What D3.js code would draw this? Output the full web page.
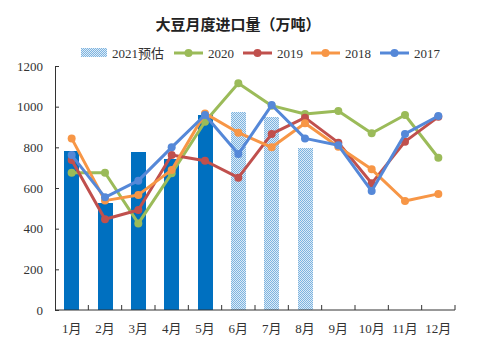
<!DOCTYPE html>
<html><head><meta charset="utf-8">
<script src="https://cdn.jsdelivr.net/npm/d3@7/dist/d3.min.js"></script>
<style>body{margin:0;background:#fff}svg{display:block}text{font-family:"Liberation Serif","Noto Sans CJK SC",serif}</style>
</head><body><svg id="c" width="477" height="347"></svg>
<script>
const months = ["1月","2月","3月","4月","5月","6月","7月","8月","9月","10月","11月","12月"];
const bars2021 = [784, 525, 775, 743, 959, 975, 949, 798, null, null, null, null];
const estimateFrom = 5; // index from which 2021 bars are estimates
const s2020 = [675, 675, 426, 672, 926, 1115, 1005, 964, 979, 869, 959, 749];
const s2019 = [738, 446, 492, 762, 734, 651, 866, 946, 823, 623, 828, 950];
const s2018 = [844, 538, 566, 689, 967, 872, 800, 918, 803, 692, 536, 571];
const s2017 = [762, 554, 636, 800, 959, 767, 1008, 844, 810, 585, 866, 954];
const yTicks = [0, 200, 400, 600, 800, 1000, 1200];
const seriesNames = ["2020","2019","2018","2017"];
const seriesColors = ["#9BBB59","#C0504D","#F79646","#5588D8"];
const seriesData = [s2020, s2019, s2018, s2017];

const svg = d3.select("#c");
const defs = svg.append("defs");
const pat = defs.append("pattern").attr("id","hatch").attr("patternUnits","userSpaceOnUse").attr("width",2).attr("height",2);
pat.append("rect").attr("width",2).attr("height",2).attr("fill","#DDEBF7");
pat.append("rect").attr("x",0).attr("y",0).attr("width",1).attr("height",1).attr("fill","#7DB4E0");
pat.append("rect").attr("x",1).attr("y",1).attr("width",1).attr("height",1).attr("fill","#7DB4E0");

const x = d3.scaleBand().domain(months).range([55,455]).paddingInner(0.55).paddingOuter(0.275);
const xc = d3.scalePoint().domain(months).range([55,455]).padding(0.5);
const y = d3.scaleLinear().domain([0,1200]).range([310,66]);

// bars
svg.append("g").attr("shape-rendering","crispEdges").selectAll("rect").data(bars2021.map((v,i)=>({v,i})).filter(d=>d.v!=null))
  .join("rect")
  .attr("x",d=>Math.round(x(months[d.i]))).attr("width",Math.round(x.bandwidth()))
  .attr("y",d=>y(d.v)).attr("height",d=>y(0)-y(d.v))
  .attr("fill",d=>d.i>=estimateFrom?"url(#hatch)":"#0070C0");

// axes
const ya = svg.append("g").attr("transform","translate(55,0)")
  .call(d3.axisLeft(y).tickValues(yTicks).tickFormat(d3.format("d")).tickSize(-4).tickSizeOuter(0).tickPadding(12));
ya.selectAll("text").attr("font-size",13).attr("fill","#333");
ya.select(".domain").attr("stroke","#333");
ya.selectAll(".tick line").attr("stroke","#333");

const xa = svg.append("g").attr("transform","translate(0,310)");
xa.append("line").attr("x1",55).attr("x2",455).attr("stroke","#333");
const step = 400/12;
xa.selectAll("line.t").data(d3.range(1,13)).join("line").attr("class","t")
  .attr("x1",i=>55+i*step).attr("x2",i=>55+i*step).attr("y1",0).attr("y2",-5).attr("stroke","#333");
xa.selectAll("text").data(months).join("text")
  .attr("x",d=>xc(d)).attr("y",23).attr("text-anchor","middle")
  .attr("font-size",13).attr("fill","#333").text(d=>d);

// lines
const line = d3.line().x((d,i)=>xc(months[i])).y(d=>y(d));
seriesData.forEach((s,k)=>{
  const g = svg.append("g");
  g.append("path").attr("d",line(s)).attr("fill","none").attr("stroke",seriesColors[k]).attr("stroke-width",3).attr("stroke-linejoin","round");
  g.selectAll("circle").data(s).join("circle").attr("cx",(d,i)=>xc(months[i])).attr("cy",d=>y(d)).attr("r",4).attr("fill",seriesColors[k]);
});

// title
svg.append("text").attr("x",238).attr("y",30).attr("text-anchor","middle")
  .attr("font-size",15).attr("font-weight","bold").attr("fill","#222").text("大豆月度进口量（万吨）");

// legend
const lg = svg.append("g").attr("transform","translate(0,53)");
lg.append("rect").attr("x",81).attr("y",-5).attr("width",26).attr("height",9).attr("fill","url(#hatch)");
lg.append("text").attr("x",112).attr("y",5).attr("font-size",13).attr("fill","#333").text("2021预估");
const lx = [174,243,311,380];
seriesNames.forEach((n,k)=>{
  lg.append("line").attr("x1",lx[k]).attr("x2",lx[k]+29).attr("y1",0).attr("y2",0).attr("stroke",seriesColors[k]).attr("stroke-width",3);
  lg.append("circle").attr("cx",lx[k]+14.5).attr("cy",0).attr("r",4).attr("fill",seriesColors[k]);
  lg.append("text").attr("x",lx[k]+34).attr("y",5).attr("font-size",13).attr("fill","#333").text(n);
});
</script></body></html>
